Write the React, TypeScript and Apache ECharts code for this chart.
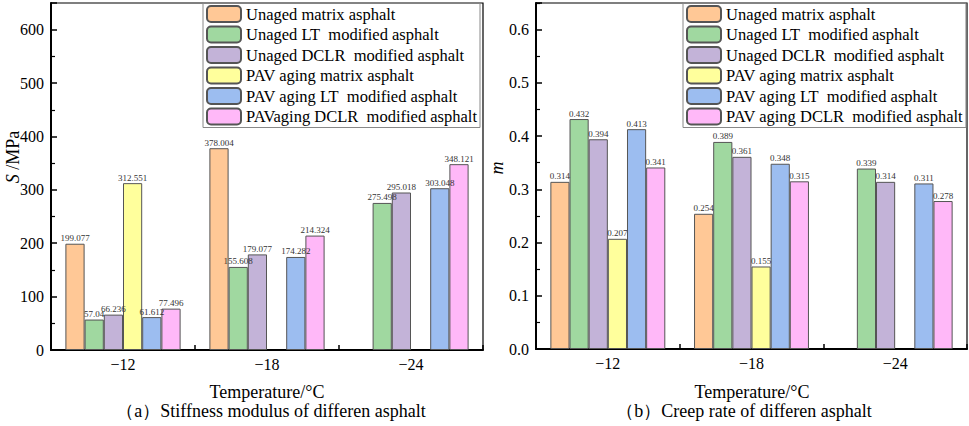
import React, { useEffect, useRef } from "react";
import * as echarts from "echarts";

const categories = ["\u221212", "\u221218", "\u221224"];

const S2 = "\u00A0 ";

const seriesNamesA = [
  "Unaged matrix asphalt",
  `Unaged LT${S2}modified asphalt`,
  `Unaged DCLR${S2}modified asphalt`,
  "PAV aging matrix asphalt",
  `PAV aging LT${S2}modified asphalt`,
  `PAVaging DCLR${S2}modified asphalt`,
];
const seriesNamesB = [
  "Unaged matrix asphalt ",
  `Unaged LT${S2}modified asphalt `,
  `Unaged DCLR${S2}modified asphalt `,
  "PAV aging matrix asphalt ",
  `PAV aging LT${S2}modified asphalt `,
  `PAV aging DCLR${S2}modified asphalt`,
];

const stiffUnagedMatrix = [199.077, 378.004, null];
const stiffUnagedLT = [57.04, 155.608, 275.498];
const stiffUnagedDCLR = [66.236, 179.077, 295.018];
const stiffPavMatrix = [312.551, null, null];
const stiffPavLT = [61.612, 174.282, 303.048];
const stiffPavDCLR = [77.496, 214.324, 348.121];

const creepUnagedMatrix = [0.314, 0.254, null];
const creepUnagedLT = [0.432, 0.389, 0.339];
const creepUnagedDCLR = [0.394, 0.361, 0.314];
const creepPavMatrix = [0.207, 0.155, null];
const creepPavLT = [0.413, 0.348, 0.311];
const creepPavDCLR = [0.341, 0.315, 0.278];

const colors = ["#FFC896", "#A0D8A0", "#C3B3D8", "#FFFF9C", "#9CBDF0", "#FFB8F8"];

const FONT = "Liberation Serif";

export default function App() {
  const ref = useRef<HTMLDivElement>(null);
  useEffect(() => {
    if (!ref.current) return;
    const chart = echarts.init(ref.current, undefined, { renderer: "svg" });
    const stiff = [stiffUnagedMatrix, stiffUnagedLT, stiffUnagedDCLR, stiffPavMatrix, stiffPavLT, stiffPavDCLR];
    const creep = [creepUnagedMatrix, creepUnagedLT, creepUnagedDCLR, creepPavMatrix, creepPavLT, creepPavDCLR];

    const mkSeries = (names: string[], data: (number | null)[][], idx: number) =>
      data.map((d, i) => ({
        type: "bar",
        name: names[i],
        xAxisIndex: idx,
        yAxisIndex: idx,
        data: d,
        barGap: "0%",
        barCategoryGap: "20%",
        itemStyle: { color: colors[i], borderColor: "#555", borderWidth: 1 },
        label: {
          show: true,
          position: "top",
          distance: 1,
          fontFamily: FONT,
          fontSize: 9,
          color: "#333",
        },
      }));

    const xAxisBase = (gi: number) => ({
      type: "category",
      gridIndex: gi,
      data: categories,
      axisLine: { lineStyle: { color: "#000", width: 2 } },
      axisTick: { show: true, inside: true, length: 5, lineStyle: { color: "#000", width: 1.5 } },
      axisLabel: { fontFamily: FONT, fontSize: 16, color: "#000", margin: 6 },
      splitLine: { show: false },
    });
    const yAxisBase = (gi: number, max: number, interval: number, fmt: (v: number) => string) => ({
      type: "value",
      gridIndex: gi,
      min: 0,
      max,
      interval,
      axisLine: { show: true, lineStyle: { color: "#000", width: 2 } },
      axisTick: { show: true, inside: true, length: 6, lineStyle: { color: "#000", width: 1.5 } },
      minorTick: { show: true, splitNumber: 2, length: 4, lineStyle: { color: "#000", width: 1.2 } },
      axisLabel: {
        fontFamily: FONT,
        fontSize: 16,
        color: "#000",
        margin: 7,
        showMaxLabel: false,
        formatter: fmt,
      },
      splitLine: { show: false },
    });

    const legendBase = (left: number, names: string[]) => ({
      orient: "vertical",
      left,
      top: 3,
      data: names,
      itemWidth: 34,
      itemHeight: 16,
      itemGap: 2.5,
      padding: [2, 3, 2, 3],
      borderColor: "#888",
      borderWidth: 1,
      selectedMode: false,
      textStyle: { fontFamily: FONT, fontSize: 16.5, lineHeight: 16, color: "#000" },
    });

    chart.setOption({
      animation: false,
      backgroundColor: "#fff",
      grid: [
        { left: 51, top: 3, width: 432, height: 347, show: true, borderColor: "#000", borderWidth: 1.2, backgroundColor: "transparent" },
        { left: 536, top: 3, width: 431, height: 346, show: true, borderColor: "#000", borderWidth: 1.2, backgroundColor: "transparent" },
      ],
      legend: [legendBase(203, seriesNamesA), legendBase(683, seriesNamesB)],
      xAxis: [xAxisBase(0), xAxisBase(1)],
      yAxis: [
        yAxisBase(0, 650, 100, (v: number) => String(Math.round(v))),
        yAxisBase(1, 0.65, 0.1, (v: number) => v.toFixed(1)),
      ],
      series: [...mkSeries(seriesNamesA, stiff, 0), ...mkSeries(seriesNamesB, creep, 1)],
      graphic: [
        {
          type: "text",
          x: 13,
          y: 157,
          rotation: Math.PI / 2,
          style: {
            text: "{i|S} /MPa",
            rich: {
              i: { fontFamily: FONT, fontSize: 18, fontStyle: "italic", fill: "#000" },
            },
            fontFamily: FONT,
            fontSize: 18,
            fill: "#000",
            align: "center",
            verticalAlign: "middle",
          },
        },
        {
          type: "text",
          x: 497,
          y: 168,
          rotation: Math.PI / 2,
          style: {
            text: "m",
            fontFamily: FONT,
            fontSize: 18,
            fontStyle: "italic",
            fill: "#000",
            align: "center",
            verticalAlign: "middle",
          },
        },
        {
          type: "text",
          x: 267,
          y: 392,
          style: { text: "Temperature/\u00B0C", fontFamily: FONT, fontSize: 18, fill: "#000", align: "center", verticalAlign: "middle" },
        },
        {
          type: "text",
          x: 752,
          y: 392,
          style: { text: "Temperature/\u00B0C", fontFamily: FONT, fontSize: 18, fill: "#000", align: "center", verticalAlign: "middle" },
        },
        {
          type: "text",
          x: 271,
          y: 411,
          style: { text: "\uFF08a\uFF09Stiffness modulus of differen asphalt", fontFamily: FONT, fontSize: 18, fill: "#000", align: "center", verticalAlign: "middle" },
        },
        {
          type: "text",
          x: 744,
          y: 411,
          style: { text: "\uFF08b\uFF09Creep rate of differen asphalt", fontFamily: FONT, fontSize: 18, fill: "#000", align: "center", verticalAlign: "middle" },
        },
      ],
    });
    return () => chart.dispose();
  }, []);
  return (
    <div
      ref={ref}
      style={{ position: "fixed", left: 0, top: 0, width: 969, height: 426, background: "#fff" }}
    />
  );
}
